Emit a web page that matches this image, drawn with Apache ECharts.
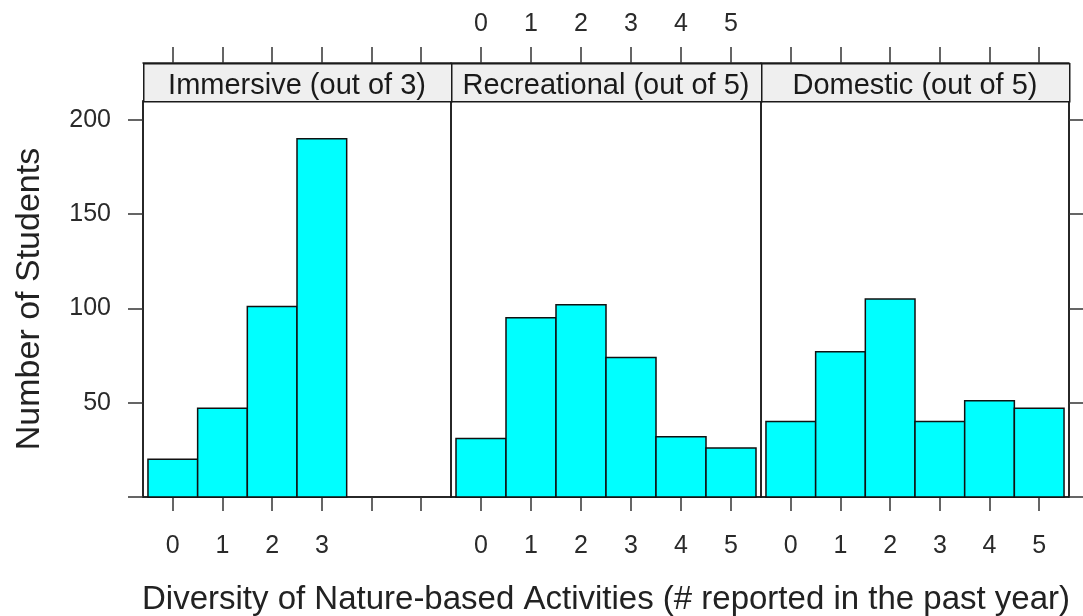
<!DOCTYPE html>
<html>
<head>
<meta charset="utf-8">
<script src="https://cdn.jsdelivr.net/npm/echarts@6/dist/echarts.min.js"></script>
<style>
html,body{margin:0;padding:0;background:#fff;}
#chart{width:1083px;height:616px;}
</style>
</head>
<body>
<div id="chart"></div>
<script>
// ---- data ----
const categories = [0, 1, 2, 3, 4, 5];
const immersiveCats = [0, 1, 2, 3];
const immersive = [20, 47, 101, 190];
const recreational = [31, 95, 102, 74, 32, 26];
const domestic = [40, 77, 105, 40, 51, 47];
const yTicks = [0, 50, 100, 150, 200];
const yTickLabels = [50, 100, 150, 200];
const panelTitles = ['Immersive (out of 3)', 'Recreational (out of 5)', 'Domestic (out of 5)'];
const xTitle = 'Diversity of Nature-based Activities (# reported in the past year)';
const yTitle = 'Number of Students';

const FONT = '"Liberation Sans", Arial, sans-serif';
const panels = [
  {left: 143, width: 308, cats: immersiveCats, vals: immersive, bottomLabels: immersiveCats, topLabels: null},
  {left: 451, width: 310, cats: categories, vals: recreational, bottomLabels: categories, topLabels: categories},
  {left: 761, width: 308, cats: categories, vals: domestic, bottomLabels: categories, topLabels: null}
];
const TOP = 101, HEIGHT = 396, STRIP = 38;

const grids = [], xAxes = [], yAxes = [], series = [], graphics = [];
panels.forEach((p, i) => {
  grids.push({left: p.left, top: TOP, width: p.width, height: HEIGHT, show: true,
    borderColor: '#1a1a1a', borderWidth: 1.5, backgroundColor: 'transparent',
    containLabel: false, outerBoundsMode: 'none'});
  // bottom axis
  xAxes.push({
    gridIndex: i, type: 'value', min: -0.6, max: 5.6, position: 'bottom',
    axisLine: {show: true, onZero: false, lineStyle: {color: '#1a1a1a', width: 1.5}},
    axisTick: {show: true, customValues: categories, length: 14, lineStyle: {color: '#333', width: 1.5}},
    axisLabel: {show: true, customValues: p.bottomLabels, margin: 37, fontSize: 25, color: '#2a2a2a', fontFamily: FONT,
      formatter: v => String(v)},
    splitLine: {show: false},
    name: i === 1 ? xTitle : '', nameLocation: 'middle', nameGap: 86,
    nameTextStyle: {fontSize: 33, color: '#222', fontFamily: FONT}
  });
  // top axis
  xAxes.push({
    gridIndex: i, type: 'value', min: -0.6, max: 5.6, position: 'top', offset: STRIP,
    axisLine: {show: true, onZero: false, lineStyle: {color: '#1a1a1a', width: 1.5}},
    axisTick: {show: true, customValues: categories, length: 16, lineStyle: {color: '#333', width: 1.5}},
    axisLabel: p.topLabels ? {show: true, customValues: p.topLabels, margin: 26, fontSize: 25, color: '#2a2a2a', fontFamily: FONT,
      formatter: v => String(v)} : {show: false},
    splitLine: {show: false}
  });
  // y axis
  const yBase = {gridIndex: i, type: 'value', min: 0, max: 210, splitLine: {show: false}};
  if (i === 0) {
    yAxes.push(Object.assign(yBase, {position: 'left',
      axisLine: {show: true, onZero: false, lineStyle: {color: '#1a1a1a', width: 1.5}},
      axisTick: {show: true, customValues: yTicks, length: 15, lineStyle: {color: '#333', width: 1.5}},
      axisLabel: {show: true, customValues: yTickLabels, margin: 32, fontSize: 25, color: '#2a2a2a', fontFamily: FONT},
      name: yTitle, nameLocation: 'middle', nameGap: 96, nameRotate: 90,
      nameTextStyle: {fontSize: 34, color: '#222', fontFamily: FONT}}));
  } else if (i === 2) {
    yAxes.push(Object.assign(yBase, {position: 'right',
      axisLine: {show: true, onZero: false, lineStyle: {color: '#1a1a1a', width: 1.5}},
      axisTick: {show: true, customValues: yTicks, length: 14, lineStyle: {color: '#333', width: 1.5}},
      axisLabel: {show: false}}));
  } else {
    yAxes.push(Object.assign(yBase, {show: false}));
  }
  series.push({
    type: 'custom', xAxisIndex: 2 * i, yAxisIndex: i,
    data: p.cats.map((c, k) => [c, p.vals[k]]),
    encode: {x: 0, y: 1},
    renderItem: function (params, api) {
      const x = api.value(0), y = api.value(1);
      const a = api.coord([x - 0.5, y]);
      const b = api.coord([x + 0.5, 0]);
      return {type: 'rect', shape: {x: a[0], y: a[1], width: b[0] - a[0], height: b[1] - a[1]},
        style: {fill: '#00ffff', stroke: '#111', lineWidth: 1.5}};
    }
  });
  // strip
  graphics.push({type: 'rect', left: p.left, top: TOP - STRIP, shape: {width: p.width, height: STRIP},
    style: {fill: '#efefef', stroke: '#1a1a1a', lineWidth: 1.5}, z: 10});
  graphics.push({type: 'text', x: p.left + p.width / 2, y: TOP - STRIP / 2 + 4,
    style: {text: panelTitles[i], fontSize: 29, fill: '#1a1a1a', fontFamily: FONT, align: 'center', verticalAlign: 'middle'}, z: 11});
});

const chart = echarts.init(document.getElementById('chart'), null, {renderer: 'canvas'});
chart.setOption({
  animation: false,
  backgroundColor: '#fff',
  grid: grids, xAxis: xAxes, yAxis: yAxes, series: series,
  graphic: graphics
});
</script>
</body>
</html>
